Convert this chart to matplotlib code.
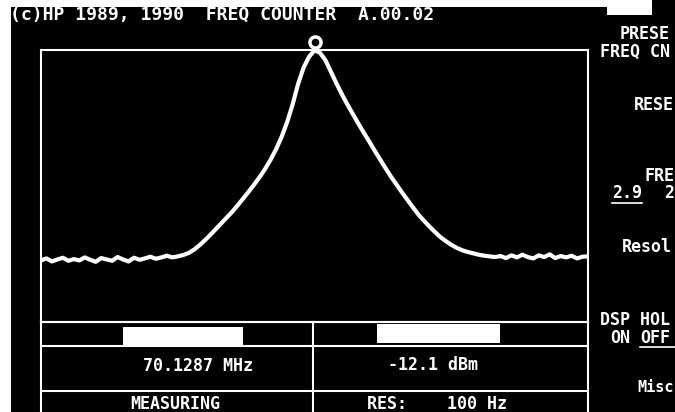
#!/usr/bin/env python3

import matplotlib
matplotlib.use("Agg")
import matplotlib.pyplot as plt
from matplotlib.patches import Rectangle
from matplotlib.transforms import offset_copy

# trace: bin number across the frame, level in dBm
trace_bins = list(range(101))
trace_dbm = [
    -73.9, -73.3, -74.2, -73.6, -73.1, -74.0, -73.5, -73.9, -73.0, -73.7,
    -74.3, -73.2, -73.6, -74.0, -72.9, -73.6, -74.2, -73.1, -73.7, -73.3,
    -72.8, -73.4, -73.0, -72.5, -73.0, -72.7, -72.3, -71.7, -70.7, -69.4,
    -67.9, -66.3, -64.6, -62.9, -61.2, -59.5, -57.6, -55.6, -53.6, -51.5,
    -49.3, -46.9, -44.2, -41.1, -37.5, -33.2, -28.0, -22.0, -17.2, -14.0,
    -12.1, -12.8, -15.0, -18.4, -21.8, -25.0, -28.0, -30.8, -33.6, -36.3,
    -38.9, -41.6, -44.2, -46.8, -49.3, -51.6, -53.9, -56.1, -58.3, -60.4,
    -62.2, -63.9, -65.5, -67.0, -68.2, -69.3, -70.2, -70.9, -71.4, -71.8,
    -72.2, -72.5, -72.7, -72.9, -72.6, -73.2, -72.4, -73.0, -72.2, -72.9,
    -73.3, -72.4, -72.9, -72.1, -73.2, -72.6, -73.0, -72.5, -73.3, -72.8,
    -72.7,
]
ref_level = -12
bottom_level = -92

title_text = "(c)HP 1989, 1990  FREQ COUNTER  A.00.02"
freq_text = "70.1287 MHz"
level_text = "-12.1 dBm"
status_text = "MEASURING"
res_text = "RES:    100 Hz"

W, H = 675, 412
FG = "white"
FONT = dict(family="DejaVu Sans Mono", weight="bold", color=FG, size=12)

fig = plt.figure(figsize=(W / 100, H / 100), dpi=100, facecolor="black")

# pixel-space background axes for the screen furniture
bg = fig.add_axes([0, 0, 1, 1])
bg.set_xlim(0, W)
bg.set_ylim(H, 0)
bg.axis("off")
bg.set_facecolor("black")

# white paper margins of the photo
bg.add_patch(Rectangle((0, 0), 11, H, color="white", lw=0))
bg.add_patch(Rectangle((0, 0), 607, 7, color="white", lw=0))
bg.add_patch(Rectangle((607, 0), 45, 15, color="white", lw=0))

# readout table under the trace
lw = 1.5
for yy in (322, 346, 391):
    bg.plot([41, 588], [yy, yy], color=FG, lw=lw)
bg.plot([41, 41], [322, H], color=FG, lw=lw)
bg.plot([313, 313], [322, H], color=FG, lw=lw)
bg.plot([588, 588], [322, H], color=FG, lw=lw)
bg.add_patch(Rectangle((123, 327), 120, 18, color="white", lw=0))
bg.add_patch(Rectangle((377, 324), 123, 19, color="white", lw=0))

bg.text(10, 15, title_text, va="center", ha="left",
        **{**FONT, "size": 13})
bg.text(143, 366, freq_text, va="center", ha="left", **FONT)
bg.text(388, 365, level_text, va="center", ha="left", **FONT)
bg.text(130, 404, status_text, va="center", ha="left", **FONT)
bg.text(367, 404, res_text, va="center", ha="left", **FONT)

# softkey labels along the right edge
keys = [
    (620, 34, "PRESE"), (600, 52, "FREQ CN"), (634, 105, "RESE"),
    (644, 176, "FRE"), (612, 193, "2.9"), (664, 193, "2"),
    (622, 247, "Resol"), (600, 320, "DSP HOL"), (610, 338, "ON"),
    (640, 338, "OFF"), (637, 388, "Misc"),
]
for kx, ky, label in keys:
    size = 11 if label == "Misc" else 12
    bg.text(kx, ky, label, va="center", ha="left", clip_on=False,
            **{**FONT, "size": size})
bg.plot([612, 642], [203, 203], color=FG, lw=1.2)
bg.plot([640, 675], [347, 347], color=FG, lw=1.2)

# trace axes inside the frame
x0, x1, y0, y1 = 41, 588, 50, 322
ax = fig.add_axes([x0 / W, (H - y1) / H, (x1 - x0) / W, (y1 - y0) / H])
ax.set_facecolor("none")
ax.set_xlim(trace_bins[0], trace_bins[-1])
ax.set_ylim(bottom_level, ref_level)
for s in ax.spines.values():
    s.set_color(FG)
    s.set_linewidth(lw)
ax.set_xticks([])
ax.set_yticks([])
ax.plot(trace_bins, trace_dbm, color=FG, lw=3.0, solid_capstyle="round",
        solid_joinstyle="round")

# peak marker sits just above the peak
pk = trace_dbm.index(max(trace_dbm))
mtr = offset_copy(ax.transData, fig=fig, x=0, y=8, units="dots")
ax.plot(trace_bins[pk], trace_dbm[pk], marker="o", ms=8, mfc="black",
        mec=FG, mew=2.5, transform=mtr, clip_on=False)

fig.savefig("out.png", dpi=100, facecolor="black")
